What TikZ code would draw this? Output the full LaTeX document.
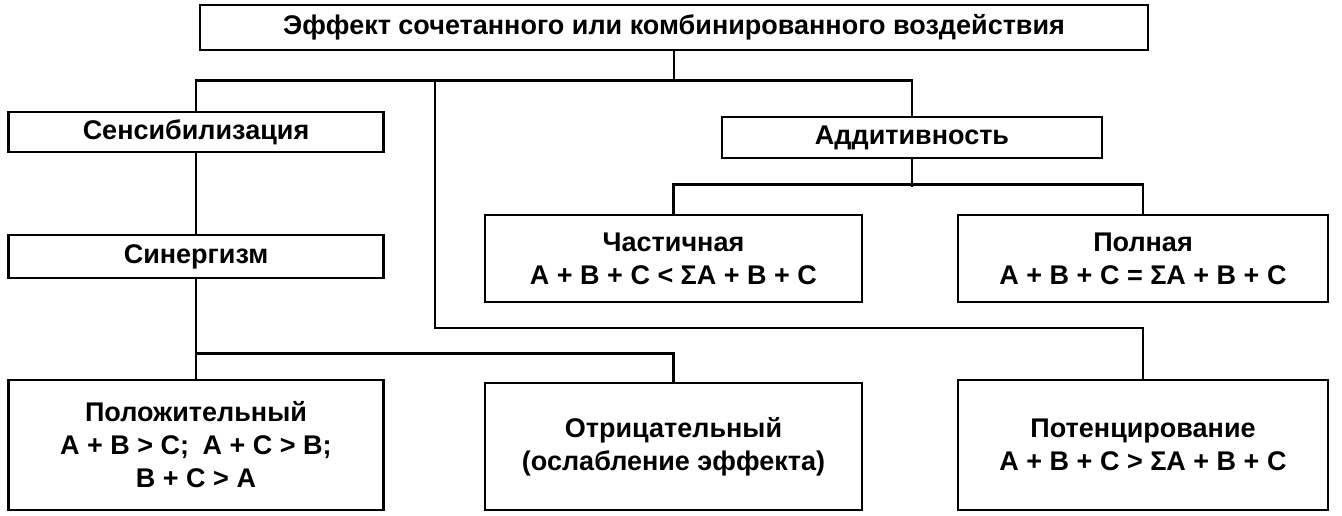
\documentclass[tikz,border=0pt]{standalone}
\usepackage{fontspec}
\setmainfont{Liberation Sans}
\usetikzlibrary{positioning}
\tikzset{
  blk/.style={draw, line width=2.5pt, align=center, inner sep=2pt,
    font=\fontsize{27}{33}\selectfont\bfseries},
  wire/.style={line width=2.5pt}
}
\begin{document}
\begin{tikzpicture}[x=1pt,y=1pt]
  \useasboundingbox (0,0) rectangle (1342,-516);
  % Boxes
  \node[blk, minimum width=948, minimum height=45] (eff) at (674,-27.5) {Эффект сочетанного или комбинированного воздействия};
  \node[blk, minimum width=375, minimum height=40] (sens) at (196,-132) {Сенсибилизация};
  \node[blk, minimum width=380, minimum height=41] (add) at (912,-137.5) {Аддитивность};
  \node[blk, minimum width=377, minimum height=87] (part) at (673.5,-258.5) {Частичная\\A + B + C < ΣA + B + C};
  \node[blk, minimum width=370, minimum height=87] (full) at (1143,-258.5) {Полная\\A + B + C = ΣA + B + C};
  \node[blk, minimum width=375, minimum height=43] (syn) at (196,-256.5) {Синергизм};
  \node[blk, minimum width=375, minimum height=130] (pos) at (196,-445) {Положительный\\A + B > C;\enspace A + C > B;\\B + C > A};
  \node[blk, minimum width=377, minimum height=127] (neg) at (673.5,-446.5) {Отрицательный\\(ослабление эффекта)};
  \node[blk, minimum width=370, minimum height=130] (pot) at (1143,-445) {Потенцирование\\A + B + C > ΣA + B + C};
  \coordinate (hub) at (674,-82);
  \coordinate (fork) at (435,-82);
  % Connectors
  \draw[wire] (eff.south) -- (hub);
  \draw[wire] (sens.north) -- ++(0,30) -| (add.north);
  \draw[wire] (fork) -- ++(0,-246) -| (pot.north);
  \draw[wire] (add.south) -- ++(0,-28);
  \draw[wire] (part.north) -- ++(0,29) -| (full.north);
  \draw[wire] (sens) -- (syn);
  \draw[wire] (syn) -- (pos);
  \draw[wire] (syn.south) -- ++(0,-74) -| (neg.north);
\end{tikzpicture}
\end{document}
